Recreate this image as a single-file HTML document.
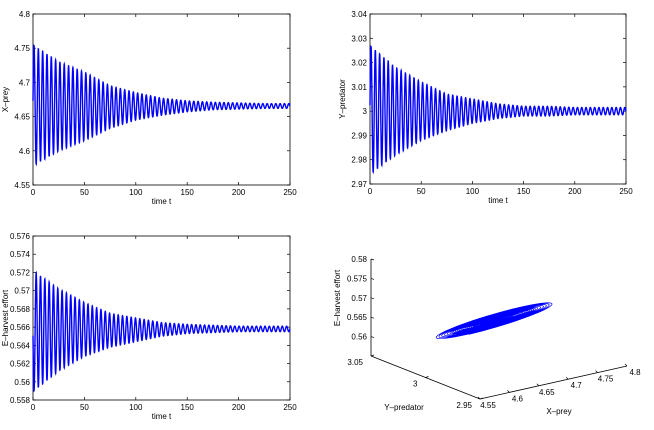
<!DOCTYPE html>
<html><head><meta charset="utf-8"><style>
body{margin:0;background:#fff;width:654px;height:425px;overflow:hidden;font-family:"Liberation Sans",sans-serif}
svg text{font-family:"Liberation Sans",sans-serif;font-size:8px;fill:#000}
</style></head><body>
<svg id="fig" width="654" height="425" viewBox="0 0 654 425" xmlns="http://www.w3.org/2000/svg"></svg>
<script>
// ---- data (envelopes at t = 0,25,...,250) ----
const envTimes = [0,25,50,75,100,125,150,175,200,225,250];
const xUpper = [4.755,4.73,4.715,4.695,4.685,4.677,4.673,4.671,4.670,4.669,4.669];
const xLower = [4.578,4.60,4.615,4.633,4.645,4.652,4.657,4.660,4.661,4.662,4.662];
const yUpper = [3.027,3.018,3.012,3.007,3.005,3.003,3.002,3.002,3.0015,3.0015,3.0015];
const yLower = [2.974,2.982,2.988,2.992,2.995,2.997,2.998,2.998,2.9985,2.9985,2.9985];
const eUpper = [0.5722,0.5702,0.5687,0.5675,0.5670,0.5665,0.5663,0.5662,0.5661,0.5661,0.5661];
const eLower = [0.5589,0.5612,0.5628,0.5638,0.5644,0.5650,0.5653,0.5654,0.5655,0.5655,0.5655];
const period = [4.2];
const xTicks = [0,50,100,150,200,250];
const xPreyTicks = [4.55,4.6,4.65,4.7,4.75,4.8];
const yPredTicks = [2.97,2.98,2.99,3,3.01,3.02,3.03,3.04];
const eTicks = [0.558,0.56,0.562,0.564,0.566,0.568,0.57,0.572,0.574,0.576];
const zTicks3 = [0.56,0.565,0.57,0.575,0.58];
const yTicks3 = [3.05,3,2.95];

const NS="http://www.w3.org/2000/svg", svg=document.getElementById('fig');
function mk(tag,attrs,parent){const e=document.createElementNS(NS,tag);for(const k in attrs)e.setAttribute(k,attrs[k]);(parent||svg).appendChild(e);return e;}
function interp(arr,t){const s=t/25;let i=Math.min(Math.floor(s),arr.length-2);const f=s-i;return arr[i]*(1-f)+arr[i+1]*f;}
function sig(up,lo,t,ph){const u=interp(up,t),l=interp(lo,t);return (u+l)/2+(u-l)/2*Math.cos(2*Math.PI*(t-1)/period[0]+ph);}

function panel(name,x0,y0,x1,y1,ymin,ymax,yt,ylab,up,lo,ph){
  const g=mk('g',{});
  
  
  const sx=v=>x0+(v-0)/250*(x1-x0), sy=v=>y1-(v-ymin)/(ymax-ymin)*(y1-y0);
  const box=mk('rect',{x:x0,y:y0,width:x1-x0,height:y1-y0,fill:'#fff',stroke:'#000','stroke-width':0.8},g);
  
  
  xTicks.forEach(v=>{const X=sx(v);
    mk('line',{x1:X,y1:y1,x2:X,y2:y1-3,stroke:'#000','stroke-width':0.7},g);
    mk('line',{x1:X,y1:y0,x2:X,y2:y0+3,stroke:'#000','stroke-width':0.7},g);
    const t=mk('text',{x:X,y:y1+10,'text-anchor':'middle'},g);t.textContent=v;
    
    });
  yt.forEach(v=>{const Y=sy(v);
    mk('line',{x1:x0,y1:Y,x2:x0+3,y2:Y,stroke:'#000','stroke-width':0.7},g);
    mk('line',{x1:x1,y1:Y,x2:x1-3,y2:Y,stroke:'#000','stroke-width':0.7},g);
    const t=mk('text',{x:x0-3,y:Y+3,'text-anchor':'end'},g);t.textContent=String(v);
    
    });
  let d='';for(let t=0;t<=250;t+=0.08){d+=(t?'L':'M')+sx(t).toFixed(2)+' '+sy(sig(up,lo,t,ph)).toFixed(2);}
  const p=mk('path',{d:d,fill:'none',stroke:'#0000ff','stroke-width':1.4},g);
  
  
  const xl=mk('text',{x:(x0+x1)/2,y:y1+19,'text-anchor':'middle','font-size':'7.5'},g);xl.textContent='time t';
  
  
  const yl=mk('text',{x:0,y:0,'text-anchor':'middle','font-size':'7.5',transform:`translate(${x0-25},${(y0+y1)/2}) rotate(-90)`},g);yl.textContent=ylab;
  
  
}
panel('x-prey-panel',33,14,290,185,4.55,4.8,xPreyTicks,'X–prey',xUpper,xLower,0);
panel('y-predator-panel',370,14,626,184,2.97,3.04,yPredTicks,'Y–predator',yUpper,yLower,0);
panel('e-harvest-panel',33,236,290,400,0.558,0.576,eTicks,'E–harvest effort',eUpper,eLower,Math.PI);

// ---- 3D phase plot ----
const g3=mk('g',{});


function P(x,y,z){return [371+(3.05-y)/0.1*109+(x-4.55)/0.25*147, 356+(3.05-y)/0.1*43-(x-4.55)/0.25*33-(z-0.555)/0.025*97];}
const ax=[[P(4.55,3.05,0.555),P(4.55,3.05,0.58)],[P(4.55,3.05,0.555),P(4.55,2.95,0.555)],[P(4.55,2.95,0.555),P(4.8,2.95,0.555)]];
ax.forEach(a=>{const l=mk('line',{x1:a[0][0],y1:a[0][1],x2:a[1][0],y2:a[1][1],stroke:'#000','stroke-width':0.8},g3);
  
  });
zTicks3.forEach(v=>{const p=P(4.55,3.05,v);mk('line',{x1:p[0],y1:p[1],x2:p[0]+3,y2:p[1]+1,stroke:'#000','stroke-width':0.7},g3);
  const t=mk('text',{x:p[0]-4,y:p[1]+3,'text-anchor':'end'},g3);t.textContent=String(v);
  
  });
yTicks3.forEach(v=>{const p=P(4.55,v,0.555);mk('line',{x1:p[0],y1:p[1],x2:p[0]+3,y2:p[1]-1,stroke:'#000','stroke-width':0.7},g3);
  const t=mk('text',{x:p[0]-8,y:p[1]+9,'text-anchor':'end'},g3);t.textContent=String(v);
  
  });
xPreyTicks.forEach(v=>{const p=P(v,2.95,0.555);mk('line',{x1:p[0],y1:p[1],x2:p[0]-2,y2:p[1]-2,stroke:'#000','stroke-width':0.7},g3);
  const t=mk('text',{x:p[0]+8,y:p[1]+9,'text-anchor':'middle'},g3);t.textContent=String(v);
  
  });
let d3='';for(let t=0;t<=250;t+=0.08){
  const p=P(sig(xUpper,xLower,t,0),sig(yUpper,yLower,t,Math.PI/2),sig(eUpper,eLower,t,-Math.PI/2));
  d3+=(t?'L':'M')+p[0].toFixed(2)+' '+p[1].toFixed(2);}
const tr=mk('path',{d:d3,fill:'none',stroke:'#0000ff','stroke-width':0.7},g3);


const l1=mk('text',{x:404,y:410,'text-anchor':'middle','font-size':'7.5'},g3);l1.textContent='Y–predator';


const l2=mk('text',{x:559,y:414,'text-anchor':'middle','font-size':'7.5'},g3);l2.textContent='X–prey';


const l3=mk('text',{x:0,y:0,'text-anchor':'middle','font-size':'7.5',transform:'translate(340,298) rotate(-90)'},g3);l3.textContent='E–harvest effort';


</script>
</body></html>
